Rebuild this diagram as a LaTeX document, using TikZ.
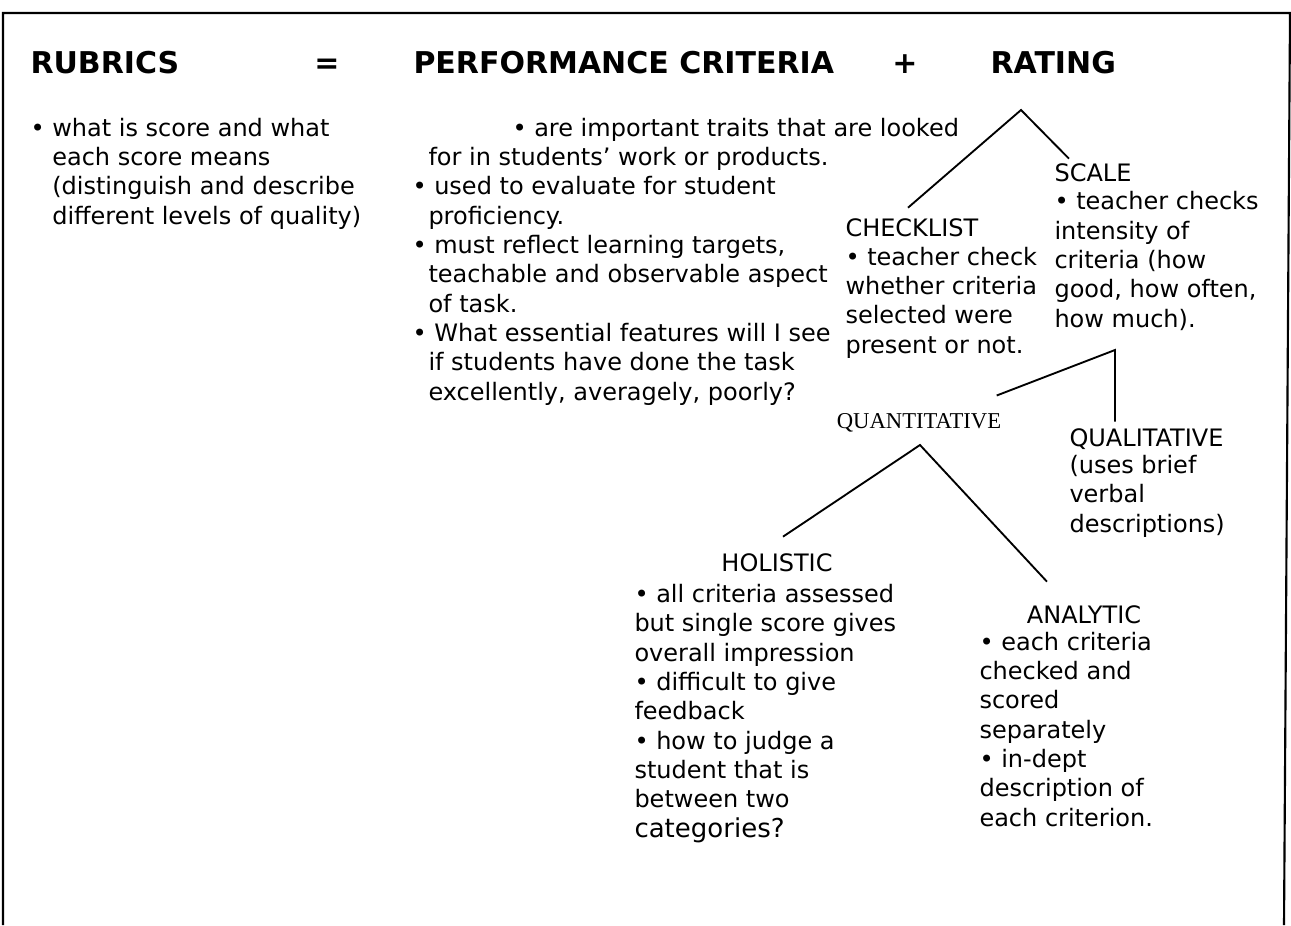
\documentclass[tikz,border=0pt]{standalone}
\usepackage{fontspec}
\setmainfont{DejaVu Sans}
\newfontfamily\timesfont{Liberation Serif}
\usetikzlibrary{calc}

\newcommand{\hangin}{\hspace*{12pt}}

\tikzset{every picture/.style={line width=0.75pt}}
\tikzset{
  headtext/.style={font=\fontsize{22.5}{27}\selectfont\bfseries, inner sep=0pt, anchor=base west},
  labeltext/.style={font=\fontsize{18}{22}\selectfont, inner sep=0pt, anchor=base west},
  bodytext/.style={labeltext, align=left},
  branch/.style={line width=1.4pt},
}

\begin{document}
\begin{tikzpicture}[x=0.75pt,y=0.75pt,yscale=-1,xscale=1]
\useasboundingbox (0,0) rectangle (1291,925);

%Shape: Frame
\draw [line width=1.6pt] (3,925) -- (3,13) -- (1290,13) -- (1284,925) ;

% Text Node: heading row
\node [headtext] (rubrics) at (30,73) {RUBRICS};
\node [headtext, anchor=base] (equals) at (327,73) {=};
\node [headtext] (perfcrit) at (413,73) {PERFORMANCE CRITERIA};
\node [headtext, anchor=base] (plus) at (905,73) {+};
\node [headtext] (rating) at (990,73) {RATING};

% Text Node: rubrics (placed at the baseline of its last line)
\node [bodytext] (rubricsnote) at (30,224) {• what is score and what\\
\phantom{•} each score means\\
\phantom{•} (distinguish and describe\\
\phantom{•} different levels of quality)};

% Text Node: performance criteria
\node [bodytext] (perfnote) at (412,400) {\hspace*{75pt}• are important traits that are looked\\
\hangin for in students’ work or products.\\
• used to evaluate for student\\
\hangin proficiency.\\
• must reflect learning targets,\\
\hangin teachable and observable aspect\\
\hangin of task.\\
• What essential features will I see\\
\hangin if students have done the task\\
\hangin excellently, averagely, poorly?};

% Text Node: checklist
\node [labeltext] (checkhead) at (845,236) {CHECKLIST};
\node [bodytext, fill=white, inner xsep=12pt] (checkbody) at (829,353) {• teacher check\\
whether criteria\\
selected were\\
present or not.};

% Text Node: scale
\node [labeltext] (scalehead) at (1054,181) {SCALE};
\node [bodytext] (scalebody) at (1054,327) {• teacher checks\\
intensity of\\
criteria (how\\
good, how often,\\
how much).};

% Text Node: quantitative / qualitative
\node [labeltext, font=\timesfont\fontsize{17}{20}\selectfont, anchor=base] (quant) at (919,428) {QUANTITATIVE};
\node [labeltext] (qualhead) at (1069,446) {QUALITATIVE};
\node [bodytext] (qualbody) at (1069,532) {(uses brief\\
verbal\\
descriptions)};

% Text Node: holistic
\node [labeltext, anchor=base] (holhead) at (777,571) {HOLISTIC};
\node [bodytext] (holbody) at (634,837) {• all criteria assessed\\
but single score gives\\
overall impression\\
• difficult to give\\
feedback\\
• how to judge a\\
student that is\\
between two\\
{\fontsize{19.5}{22}\selectfont categories?}};

% Text Node: analytic
\node [labeltext, anchor=base] (anahead) at (1084,623) {ANALYTIC};
\node [bodytext] (anabody) at (979,826) {• each criteria\\
checked and\\
scored\\
separately\\
• in-dept\\
description of\\
each criterion.};

%Straight Lines: rating branches
\coordinate (rateapex) at (1021,110);
\draw [branch] ($(checkhead.north west)+(63,-10)$) -- (rateapex) -- ($(scalehead.north west)+(15,-4)$) ;
%Straight Lines: scale branches
\coordinate (scaleapex) at (1115,350);
\draw [branch] ($(quant.north east)+(-5,-17)$) -- (scaleapex) -- ($(qualhead.north west)+(46,-6)$) ;
%Straight Lines: quantitative branches
\coordinate (quantapex) at (920,445);
\draw [branch] ($(holhead.north)+(6,-16)$) -- (quantapex) -- ($(anahead.north)+(-37,-23)$) ;

\end{tikzpicture}
\end{document}
